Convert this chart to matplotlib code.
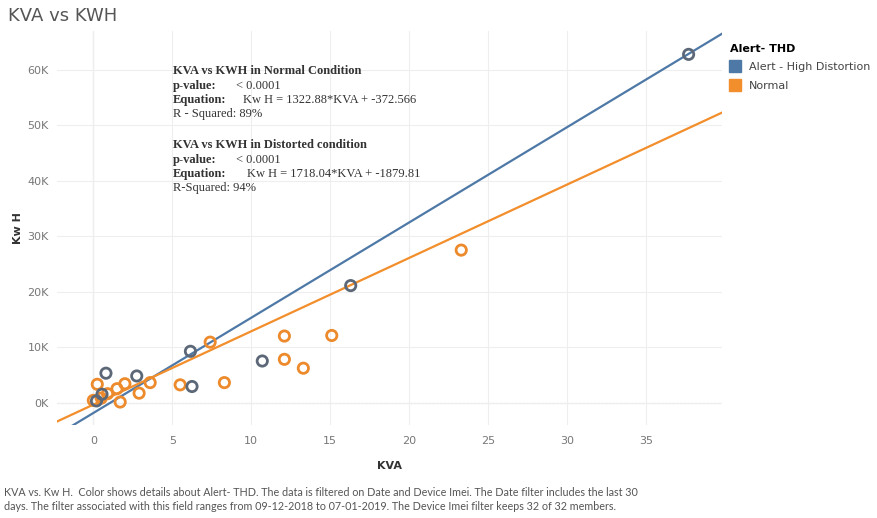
import matplotlib
matplotlib.use('Agg')
import matplotlib.pyplot as plt
from matplotlib.lines import Line2D
import numpy as np

# data
alert_kva = [37.7, 16.3, 6.15, 6.25, 10.7, 0.8, 2.75, 0.2, 0.55]
alert_kwh = [62800, 21100, 9250, 2900, 7500, 5300, 4800, 300, 1500]

normal_kva = [23.3, 7.4, 12.1, 15.1, 12.1, 13.3, 5.5, 8.3, 0.0, 0.25, 0.9,
              1.5, 2.0, 1.7, 2.9, 3.6, 0.5]
normal_kwh = [27500, 10900, 12000, 12100, 7800, 6200, 3200, 3600, 400, 3300,
              1600, 2500, 3400, 100, 1700, 3600, 800]

# trend lines (from the annotation)
alert_fit = (1718.04, -1879.81)
normal_fit = (1322.88, -372.566)

x_ticks = [0, 5, 10, 15, 20, 25, 30, 35]
y_ticks = [0, 10000, 20000, 30000, 40000, 50000, 60000]

blue = '#4e79a7'
orange = '#f28e2b'
grey_mark = '#5c6878'
orange_mark = '#ec8a2c'

fig = plt.figure(figsize=(8.77, 5.18), dpi=100)
ax = fig.add_axes([0.065, 0.18, 0.758, 0.76])

xlim = (-2.3, 39.8)
ylim = (-4000, 67000)
ax.set_xlim(*xlim)
ax.set_ylim(*ylim)

for s in ax.spines.values():
    s.set_visible(False)
ax.set_xticks(x_ticks)
ax.set_yticks(y_ticks)
ax.set_yticklabels(['%dK' % (v // 1000) for v in y_ticks])
ax.tick_params(length=0, labelsize=8, colors='#777777', pad=6)
ax.tick_params(axis='x', pad=8)
ax.grid(True, color='#eeeeee', linewidth=0.8)
ax.set_axisbelow(True)
ax.axhline(0, color='#dddddd', linewidth=0.9, linestyle=(0, (2, 1)), zorder=0.5)
ax.axvline(0, color='#e4e4e4', linewidth=0.9, zorder=0.5)

xs = np.array(xlim)
ax.plot(xs, alert_fit[0] * xs + alert_fit[1], color=blue, lw=1.6, zorder=2)
ax.plot(xs, normal_fit[0] * xs + normal_fit[1], color=orange, lw=1.6, zorder=2)

ax.scatter(normal_kva, normal_kwh, s=55, facecolors='none', edgecolors=orange_mark,
           linewidths=2, zorder=3)
ax.scatter(alert_kva, alert_kwh, s=55, facecolors='none', edgecolors=grey_mark,
           linewidths=2, zorder=4)

ax.set_xlabel('KVA', fontsize=8, fontweight='bold', color='#333333', labelpad=11)
ax.set_ylabel('Kw H', fontsize=8, fontweight='bold', color='#333333', labelpad=3)

# title
fig.text(0.009, 0.97, 'KVA vs KWH', fontsize=13, color='#555555', va='center')

# annotation block
serif = 'Liberation Serif'
tc = '#333333'
def ann(x, y, s, bold=False):
    fig.text(x / 877, 1 - y / 518, s, family=serif, fontsize=9, color=tc,
             fontweight='bold' if bold else 'normal', va='center')

ann(173, 71, 'KVA vs KWH in Normal Condition', True)
ann(173, 86, 'p-value:', True)
ann(236, 86, '< 0.0001')
ann(173, 100, 'Equation:', True)
ann(243, 100, 'Kw H = 1322.88*KVA + -372.566')
ann(173, 114, 'R - Squared: 89%')
ann(173, 145, 'KVA vs KWH in Distorted condition', True)
ann(173, 160, 'p-value:', True)
ann(236, 160, '< 0.0001')
ann(173, 174, 'Equation:', True)
ann(247, 174, 'Kw H = 1718.04*KVA + -1879.81')
ann(173, 188, 'R-Squared: 94%')

# legend
handles = [Line2D([], [], marker='s', linestyle='none', markersize=8.5,
                  markerfacecolor=blue, markeredgecolor=blue),
           Line2D([], [], marker='s', linestyle='none', markersize=8.5,
                  markerfacecolor=orange, markeredgecolor=orange)]
leg = fig.legend(handles, ['Alert - High Distortion', 'Normal'], title='Alert- THD',
                 loc='upper left', bbox_to_anchor=(0.832, 0.915), frameon=False,
                 fontsize=8, handletextpad=0.7, handlelength=1.0,
                 borderaxespad=0, borderpad=0, labelspacing=0.75)
leg.get_title().set_fontweight('bold')
leg.get_title().set_fontsize(8)
leg._legend_box.align = 'left'
for t in leg.get_texts():
    t.set_color('#444444')

cap1 = ('KVA vs. Kw H.  Color shows details about Alert- THD. The data is filtered on Date and Device Imei. '
        'The Date filter includes the last 30')
cap2 = ('days. The filter associated with this field ranges from 09-12-2018 to 07-01-2019. '
        'The Device Imei filter keeps 32 of 32 members.')
fig.text(0.004, 1 - 492 / 518, cap1, family='Lato', fontsize=7.75, color='#555555', va='center')
fig.text(0.004, 1 - 507 / 518, cap2, family='Lato', fontsize=7.75, color='#555555', va='center')

fig.savefig('out.png', dpi=100)
